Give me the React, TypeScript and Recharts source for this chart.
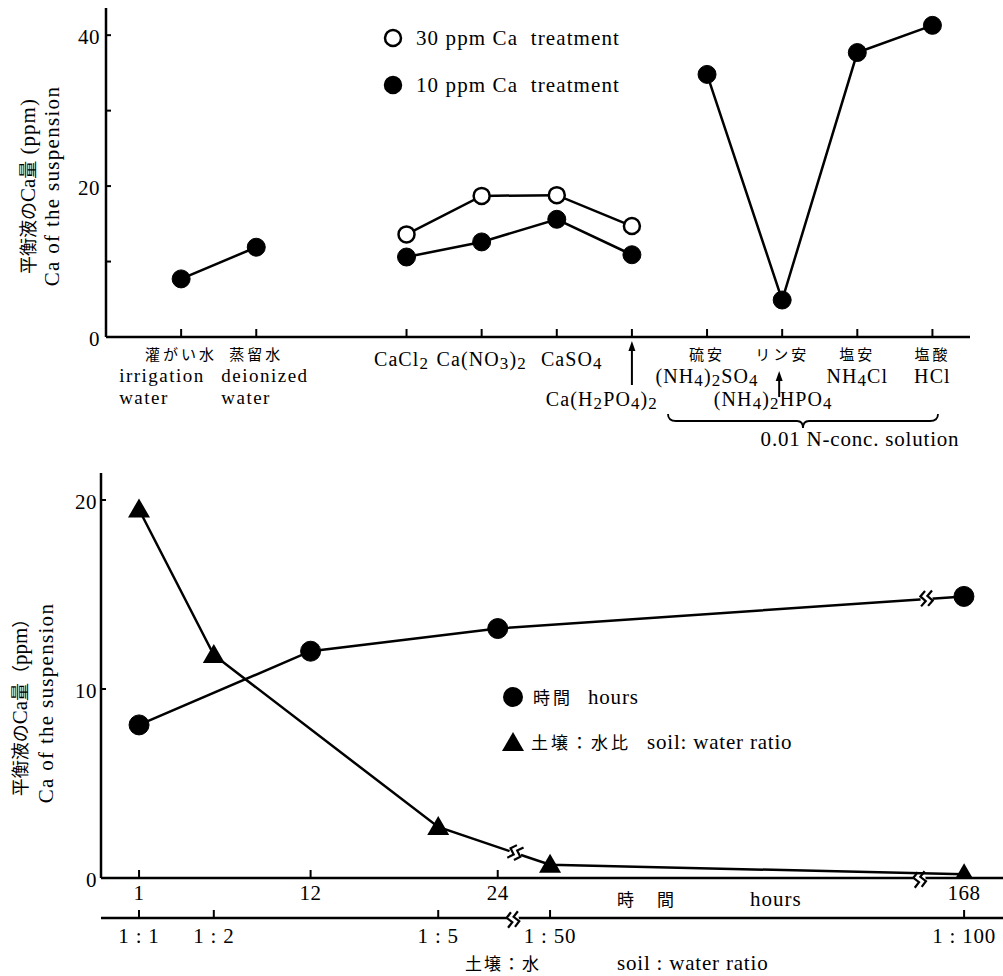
import React from 'react';
import { LineChart, Line, XAxis, YAxis, Legend, ReferenceDot } from 'recharts';

const SERIF = '"Liberation Serif", "Times New Roman", "Noto Sans CJK JP", serif';
const JP = '"Noto Sans CJK JP", "Liberation Serif", sans-serif';

// ---- upper panel: Ca of the suspension by treatment solution ----
const treatmentJa = ['灌がい水', '蒸留水', '', '', '', '', '', '硫安', 'リン安', '塩安', '塩酸'];
const treatmentEn = [
  ['irrigation', 'water'], ['deionized', 'water'], [],
  ['CaCl_2'], ['Ca(NO_3)_2'], ['CaSO_4'], ['Ca(H_2PO_4)_2'],
  ['(NH_4)_2SO_4'], ['(NH_4)_2HPO_4'], ['NH_4Cl'], ['HCl'],
];
const treatmentGroup = ['water', 'water', '', 'salt', 'salt', 'salt', 'salt', 'nitrogen', 'nitrogen', 'nitrogen', 'nitrogen'];
const ca10ppm = [7.7, 11.9, null, 10.6, 12.6, 15.6, 10.9, 34.8, 4.9, 37.7, 41.3];
const ca30ppm = [null, null, null, 13.6, 18.7, 18.8, 14.7, null, null, null, null];
const topYTicks = [0, 10, 20, 30, 40];
const topSeries = ['30 ppm Ca\u00A0\u00A0treatment', '10 ppm Ca\u00A0\u00A0treatment'];

// ---- lower panel: time course and soil:water ratio ----
const hours = [1, 12, 24, 168];
const caByHours = [8.1, 12.0, 13.2, 14.9];
const ratios = [1, 2, 5, 50, 100];
const ratioLabels = ['1 : 1', '1 : 2', '1 : 5', '1 : 50', '1 : 100'];
const caByRatio = [19.5, 11.8, 2.7, 0.7, 0.2];
const bottomYTicks = [0, 10, 20];

// broken axes: compress the long tail after the break
const hourPos = (h: number) => (h <= 24 ? h : 24 + (h - 24) * 0.2076);
const ratioPos = (r: number) => (r <= 6 ? r : 6.495 + (r - 50) * 0.1107);
const HOUR_AXIS_BREAK = 51.06;
const HOUR_LINE_BREAK = 51.5;
const RATIO_AXIS_BREAK = 6.0;
const RATIO_LINE_BREAK = 6.03;

const groups = ['water', 'salt', 'nitrogen'];
const slots = treatmentEn.map((_, i) => i + 1).filter((s) => treatmentGroup[s - 1] !== '');
const topData = treatmentEn.map((_, i) => {
  const row: any = { slot: i + 1 };
  const g = treatmentGroup[i];
  if (g) {
    row[`c10_${g}`] = ca10ppm[i];
    row[`c30_${g}`] = ca30ppm[i];
  }
  return row;
});

const hourData = hours.map((h, i) => ({ x: hourPos(h), ca: caByHours[i] }));
const ratioData = ratios.map((r, i) => ({ x: ratioPos(r), ca: caByRatio[i] }));

const lerpAt = (pts: { x: number; ca: number }[], x: number) => {
  for (let i = 1; i < pts.length; i++) {
    const a = pts[i - 1], b = pts[i];
    if (x >= a.x && x <= b.x) return a.ca + ((x - a.x) / (b.x - a.x)) * (b.ca - a.ca);
  }
  return 0;
};

const AXIS = { stroke: '#000', strokeWidth: 2.5 };
const near = (a: number, b: number) => Math.abs(a - b) < 1e-6;

// text with _n subscripts
const Formula = ({ text, x, y, size = 20, anchor = 'middle' }: any) => {
  const parts = text.split(/(_\d)/).filter((p: string) => p !== '');
  let low = false;
  return (
    <text x={x} y={y} textAnchor={anchor} fontFamily={SERIF} fontSize={size} letterSpacing={1.1} fill="#000">
      {parts.map((p: string, k: number) => {
        const sub = p[0] === '_';
        const dy = sub === low ? 0 : sub ? 3 : -3;
        low = sub;
        return (
          <tspan key={k} dy={dy} fontSize={sub ? size * 0.85 : size}>
            {sub ? p.slice(1) : p}
          </tspan>
        );
      })}
    </text>
  );
};

// plain two-line caption
const Caption = ({ lines, x, y }: any) => (
  <g>
    {lines.map((l: string, k: number) => (
      <text key={k} x={x} y={y + k * 22} fontFamily={SERIF} fontSize={19} letterSpacing={1.5} fill="#000">
        {l}
      </text>
    ))}
  </g>
);

const BreakMark = ({ cx, cy, angle = 0 }: any) => (
  <g transform={`translate(${cx},${cy}) rotate(${angle})`}>
    <rect x={-6} y={-4} width={12} height={8} fill="#fff" />
    {[-4, 3].map((dx) => (
      <polyline
        key={dx}
        points={`${dx + 3},-8 ${dx - 2},-3 ${dx + 3},2 ${dx - 2},7`}
        fill="none"
        stroke="#000"
        strokeWidth={2.2}
      />
    ))}
  </g>
);

const Arrow = ({ x, top, bottom }: any) => (
  <g>
    <line x1={x} y1={bottom} x2={x} y2={top + 6} stroke="#000" strokeWidth={2} />
    <polygon points={`${x - 3.5},${top + 10} ${x},${top} ${x + 3.5},${top + 10}`} fill="#000" />
  </g>
);

// label placement tweaks (pixels relative to the tick)
const ARROWED: Record<string, { dx: number; ax: number; top: number; bottom: number }> = {
  'Ca(H_2PO_4)_2': { dx: -30, ax: 0, top: 4, bottom: 48 },
  '(NH_4)_2HPO_4': { dx: -9, ax: -3, top: 34, bottom: 60 },
};
const LEFT_START: Record<string, number> = { irrigation: -62, deionized: -35 };
const CENTER_DX: Record<string, number> = { CaCl_2: -5, CaSO_4: 15 };

const TreatmentTick = ({ x, y, payload }: any) => {
  const i = Math.round(payload.value) - 1;
  const ja = treatmentJa[i];
  const en = treatmentEn[i] || [];
  const arrow = ARROWED[en[0]];
  const start = LEFT_START[en[0]];
  return (
    <g>
      <line x1={x} y1={y} x2={x} y2={y - 8} stroke="#000" strokeWidth={2} />
      {ja && (
        <text x={x} y={y + 23} textAnchor="middle" fontFamily={JP} fontSize={15} letterSpacing={3} fill="#000">
          {ja}
        </text>
      )}
      {arrow ? (
        <g>
          <Arrow x={x + arrow.ax} top={y + arrow.top} bottom={y + arrow.bottom} />
          <Formula text={en[0]} x={x + arrow.dx} y={y + 69} />
        </g>
      ) : start !== undefined ? (
        <Caption lines={en} x={x + start} y={y + 45} />
      ) : (
        en.map((line: string, k: number) => (
          <Formula key={k} text={line} x={x + (CENTER_DX[line] || 0)} y={y + (ja ? 46 : 29)} />
        ))
      )}
    </g>
  );
};

const ValueTick = ({ x, y, payload, every, gap }: any) => (
  <g>
    <line x1={x} y1={y} x2={x + 5} y2={y} stroke="#000" strokeWidth={2} />
    {payload.value % every === 0 && (
      <text x={x - gap} y={y + 9} textAnchor="end" fontFamily={SERIF} fontSize={21} letterSpacing={0.5} fill="#000">
        {payload.value}
      </text>
    )}
  </g>
);

const HourTick = ({ x, y, payload }: any) => {
  if (near(payload.value, HOUR_AXIS_BREAK)) return <BreakMark cx={x} cy={y + 2} angle={-8} />;
  const idx = hours.findIndex((h) => near(hourPos(h), payload.value));
  return (
    <g>
      <line x1={x} y1={y} x2={x} y2={y - 8} stroke="#000" strokeWidth={2} />
      <text x={x} y={y + 22} textAnchor="middle" fontFamily={SERIF} fontSize={21} letterSpacing={0.5} fill="#000">
        {hours[idx]}
      </text>
    </g>
  );
};

const RatioTick = ({ x, y, payload }: any) => {
  if (near(payload.value, RATIO_AXIS_BREAK)) return <BreakMark cx={x} cy={y + 2} angle={-8} />;
  const idx = ratios.findIndex((r) => near(ratioPos(r), payload.value));
  return (
    <g>
      <line x1={x} y1={y} x2={x} y2={y - 8} stroke="#000" strokeWidth={2} />
      <text x={x} y={y + 25} textAnchor="middle" fontFamily={SERIF} fontSize={21} letterSpacing={0.8} fill="#000">
        {ratioLabels[idx]}
      </text>
    </g>
  );
};

const yTitle = (jaX: number, enX: number, cy: number, fullWidth: boolean) => () => (
  <g>
    <text transform={`translate(${jaX},${cy}) rotate(-90)`} textAnchor="middle" fill="#000">
      <tspan fontFamily={JP} fontSize={18}>平衡液の</tspan>
      <tspan fontFamily={SERIF} fontSize={21}>Ca</tspan>
      <tspan fontFamily={JP} fontSize={18}>量</tspan>
      {fullWidth ? (
        <>
          <tspan fontFamily={JP} fontSize={18}>（</tspan>
          <tspan fontFamily={SERIF} fontSize={21}>ppm</tspan>
          <tspan fontFamily={JP} fontSize={18}>）</tspan>
        </>
      ) : (
        <tspan fontFamily={SERIF} fontSize={21} letterSpacing={1}>{'\u00A0(ppm)'}</tspan>
      )}
    </text>
    <text
      transform={`translate(${enX},${cy}) rotate(-90)`}
      textAnchor="middle"
      fontFamily={SERIF}
      fontSize={21}
      letterSpacing={1.3}
      fill="#000"
    >
      Ca of the suspension
    </text>
  </g>
);

const NBrace = () => (
  <g>
    <path
      d="M668,414 Q668,421 676,421 L797,421 Q803,421 803,428 Q803,421 809,421 L930,421 Q938,421 938,414"
      fill="none"
      stroke="#000"
      strokeWidth={1.8}
    />
    <text x={860} y={446} textAnchor="middle" fontFamily={SERIF} fontSize={21} letterSpacing={0.8} fill="#000">
      0.01 N-conc. solution
    </text>
  </g>
);

const HoursTitle = () => (
  <g fill="#000">
    <text x={617} y={446} fontFamily={JP} fontSize={17} letterSpacing={3}>時　間</text>
    <text x={750} y={446} fontFamily={SERIF} fontSize={21} letterSpacing={1}>hours</text>
  </g>
);

const RatioTitle = () => (
  <g fill="#000">
    <text x={465} y={510} fontFamily={JP} fontSize={17} letterSpacing={2}>土壌：水</text>
    <text x={617} y={510} fontFamily={SERIF} fontSize={21} letterSpacing={0.8}>soil : water ratio</text>
  </g>
);

const TopLegend = () => (
  <svg width={260} height={75} style={{ display: 'block' }}>
    {topSeries.map((s, i) => (
      <g key={s} transform={`translate(0, ${i * 47})`}>
        <circle cx={13} cy={16} r={8} fill={i === 0 ? '#fff' : '#000'} stroke="#000" strokeWidth={2.5} />
        <text x={36} y={23} fontFamily={SERIF} fontSize={21} letterSpacing={1.1} fill="#000">
          {s}
        </text>
      </g>
    ))}
  </svg>
);

const Triangle = ({ cx, cy }: any) => (
  <polygon points={`${cx - 11},${cy + 8} ${cx},${cy - 11} ${cx + 11},${cy + 8}`} fill="#000" />
);

const BottomLegend = () => (
  <svg width={320} height={75} style={{ display: 'block' }}>
    <circle cx={13} cy={16} r={10} fill="#000" />
    <text y={23} fill="#000">
      <tspan x={33} fontFamily={JP} fontSize={17} letterSpacing={3}>時間</tspan>
      <tspan x={88} fontFamily={SERIF} fontSize={21} letterSpacing={0.8}>hours</tspan>
    </text>
    <Triangle cx={13} cy={62} />
    <text y={68} fill="#000">
      <tspan x={31} fontFamily={JP} fontSize={17} letterSpacing={3}>土壌：水比</tspan>
      <tspan x={147} fontFamily={SERIF} fontSize={21} letterSpacing={0.8}>soil: water ratio</tspan>
    </text>
  </svg>
);

const App: React.FC = () => {
  return (
    <div style={{ position: 'absolute', left: 0, top: 0, width: 1003, height: 976, background: '#fff' }}>
      <div style={{ position: 'absolute', left: 0, top: 0 }}>
        <LineChart width={1003} height={460} data={topData} margin={{ top: 8, right: 33, bottom: 0, left: 0 }}>
          <XAxis
            type="number"
            dataKey="slot"
            domain={[0, 11.5]}
            ticks={slots}
            interval={0}
            height={123}
            axisLine={AXIS}
            tickLine={false}
            tickSize={0}
            tickMargin={0}
            tick={(p: any) => <TreatmentTick {...p} />}
            label={{ content: NBrace }}
          />
          <YAxis
            type="number"
            domain={[0, 43.6]}
            allowDataOverflow
            ticks={topYTicks}
            interval={0}
            width={106}
            axisLine={AXIS}
            tickLine={false}
            tickSize={0}
            tickMargin={0}
            tick={(p: any) => <ValueTick {...p} every={20} gap={6} />}
            label={{ content: yTitle(35, 59, 186, false) }}
          />
          <Legend
            layout="vertical"
            align="center"
            verticalAlign="middle"
            wrapperStyle={{ left: 380, top: 22, width: 260 }}
            content={() => <TopLegend />}
          />
          {groups.map((g) => (
            <Line
              key={`c10_${g}`}
              type="linear"
              dataKey={`c10_${g}`}
              name="10 ppm Ca treatment"
              stroke="#000"
              strokeWidth={2.5}
              dot={{ r: 9, fill: '#000', stroke: '#000', strokeWidth: 1 }}
              isAnimationActive={false}
            />
          ))}
          {groups.map((g) => (
            <Line
              key={`c30_${g}`}
              type="linear"
              dataKey={`c30_${g}`}
              name="30 ppm Ca treatment"
              stroke="#000"
              strokeWidth={2.5}
              dot={{ r: 8, fill: '#fff', stroke: '#000', strokeWidth: 2.5 }}
              isAnimationActive={false}
            />
          ))}
        </LineChart>
      </div>

      <div style={{ position: 'absolute', left: 0, top: 460 }}>
        <LineChart width={1003} height={516} margin={{ top: 13, right: 0, bottom: 0, left: 0 }}>
          <XAxis
            xAxisId="hours"
            type="number"
            dataKey="x"
            domain={[-1.44, 56.4]}
            allowDataOverflow
            ticks={[...hours.map(hourPos), HOUR_AXIS_BREAK]}
            interval={0}
            height={40}
            axisLine={AXIS}
            tickLine={false}
            tickSize={0}
            tickMargin={0}
            tick={(p: any) => <HourTick {...p} />}
            label={{ content: HoursTitle }}
          />
          <XAxis
            xAxisId="ratio"
            type="number"
            dataKey="x"
            domain={[0.492, 12.55]}
            allowDataOverflow
            ticks={[...ratios.map(ratioPos), RATIO_AXIS_BREAK]}
            interval={0}
            height={58}
            axisLine={AXIS}
            tickLine={false}
            tickSize={0}
            tickMargin={0}
            tick={(p: any) => <RatioTick {...p} />}
            label={{ content: RatioTitle }}
          />
          <YAxis
            type="number"
            domain={[0, 21.43]}
            allowDataOverflow
            ticks={bottomYTicks}
            interval={0}
            width={101}
            axisLine={AXIS}
            tickLine={false}
            tickSize={0}
            tickMargin={0}
            tick={(p: any) => <ValueTick {...p} every={10} gap={4} />}
            label={{ content: yTitle(27, 53, 243, true) }}
          />
          <Legend
            layout="vertical"
            align="center"
            verticalAlign="middle"
            wrapperStyle={{ left: 500, top: 221, width: 320 }}
            content={() => <BottomLegend />}
          />
          <Line
            xAxisId="hours"
            data={hourData}
            dataKey="ca"
            name="時間 hours"
            type="linear"
            stroke="#000"
            strokeWidth={2.5}
            dot={{ r: 10, fill: '#000', stroke: '#000', strokeWidth: 1 }}
            isAnimationActive={false}
          />
          <Line
            xAxisId="ratio"
            data={ratioData}
            dataKey="ca"
            name="土壌：水比 soil: water ratio"
            type="linear"
            stroke="#000"
            strokeWidth={2.5}
            dot={(p: any) => <Triangle key={p.index} cx={p.cx} cy={p.cy} />}
            isAnimationActive={false}
          />
          <ReferenceDot
            xAxisId="hours"
            x={HOUR_LINE_BREAK}
            y={lerpAt(hourData, HOUR_LINE_BREAK)}
            ifOverflow="visible"
            shape={(p: any) => <BreakMark cx={p.cx} cy={p.cy} angle={-4} />}
          />
          <ReferenceDot
            xAxisId="ratio"
            x={RATIO_LINE_BREAK}
            y={lerpAt(ratioData, RATIO_LINE_BREAK)}
            ifOverflow="visible"
            shape={(p: any) => <BreakMark cx={p.cx} cy={p.cy} angle={19} />}
          />
        </LineChart>
      </div>
    </div>
  );
};

export default App;
